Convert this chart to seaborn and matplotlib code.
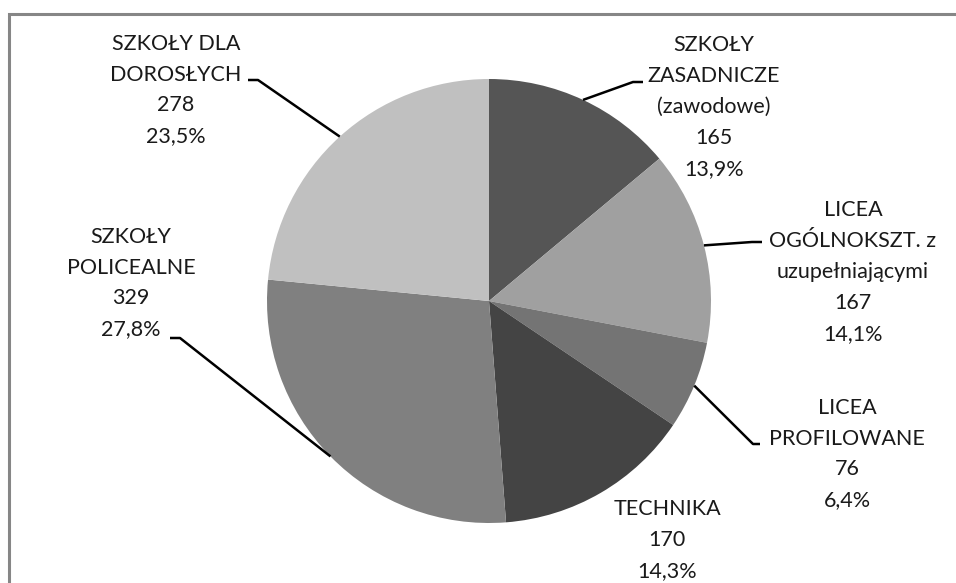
import numpy as np
import matplotlib
matplotlib.use("Agg")
import matplotlib.pyplot as plt
from matplotlib.lines import Line2D
import seaborn as sns

# Liczba szkół według typu
categories = [
    "SZKOŁY\nZASADNICZE\n(zawodowe)",
    "LICEA\nOGÓLNOKSZT. z\nuzupełniającymi",
    "LICEA\nPROFILOWANE",
    "TECHNIKA",
    "SZKOŁY\nPOLICEALNE",
    "SZKOŁY DLA\nDOROSŁYCH",
]
counts = [165, 167, 76, 170, 329, 278]
colors = ["#555555", "#a0a0a0", "#747474", "#444444", "#808080", "#c0c0c0"]

sns.set_theme(style="white")
plt.rcParams["font.family"] = ["Lato", "DejaVu Sans"]

W, H = 956, 583
CX, CY, R = 489, 301, 222  # pie centre and radius in pixels


def px(x, y):
    """Pixel position (from top-left) to data units of the pie axes."""
    return (x - CX) / R, (CY - y) / R


fig = plt.figure(figsize=(W / 100, H / 100), dpi=100)
ax = fig.add_axes([0, 0, 1, 1])
ax.axis("off")

wedges, _ = ax.pie(counts, colors=colors, startangle=90, counterclock=False,
                   radius=1, center=(0, 0), wedgeprops=dict(linewidth=0))
ax.set_xlim(-CX / R, (W - CX) / R)
ax.set_ylim(-(H - CY) / R, CY / R)
ax.set_aspect("equal")

total = sum(counts)
# label block centres (px) and leader elbows (px) for each slice
label_pos = [(714, 107), (853, 272), (847, 454), (667, 540), (131, 283), (176, 90)]
elbows = [
    [(633, 82), (643, 82)],
    [(752, 242), (762, 242)],
    [(753, 444), (760, 444)],
    None,
    [(180, 338), (170, 338)],
    [(258, 80), (248, 80)],
]

for w, cat, n, pos, elb in zip(wedges, categories, counts, label_pos, elbows):
    pct = f"{n / total * 100:.1f}".replace(".", ",") + "%"
    txt = f"{cat}\n{n}\n{pct}"
    tx, ty = px(*pos)
    ax.text(tx, ty, txt, ha="center", va="center", fontsize=15.5,
            color="#1a1a1a", linespacing=1.68)
    if elb is not None:
        mid = np.deg2rad((w.theta1 + w.theta2) / 2)
        xs = [np.cos(mid)] + [px(*p)[0] for p in elb]
        ys = [np.sin(mid)] + [px(*p)[1] for p in elb]
        ax.plot(xs, ys, color="black", lw=1.8, solid_capstyle="butt")

# outer chart frame: only the top and left edges fall inside the image
fx, fy = 9 / W, 1 - 13.5 / H
fig.lines.append(Line2D([fx, fx, 1.0], [0.0, fy, fy], transform=fig.transFigure,
                        color="#868686", lw=2.2, solid_joinstyle="miter"))

fig.savefig("out.png", dpi=100, facecolor="white")
